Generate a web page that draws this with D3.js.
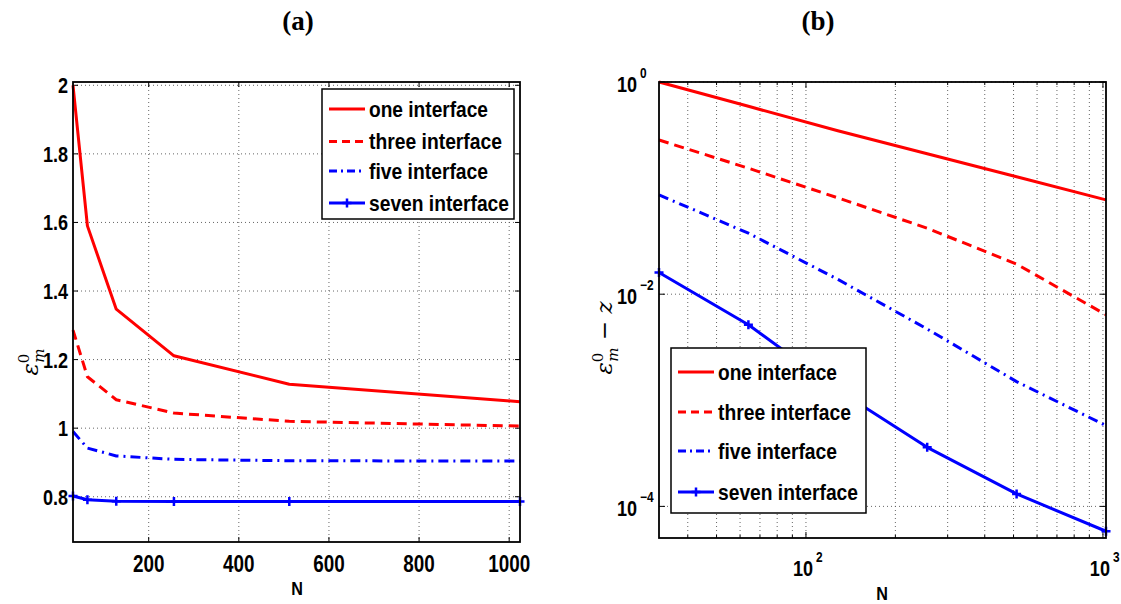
<!DOCTYPE html>
<html>
<head>
<meta charset="utf-8">
<script src="https://cdn.jsdelivr.net/npm/d3@7"></script>
<style>
  body { margin: 0; background: #fff; }
  svg { display: block; }
  text { font-family: "Liberation Sans", Arial, sans-serif; font-weight: bold; fill: #000; }
</style>
</head>
<body>
<div id="chart"></div>
<script>
// data
var N = [32, 64, 128, 256, 512, 1024];
var seriesNames = ["one interface", "three interface", "five interface", "seven interface"];

// (a) eps_m^0 against N
var oneA = [2.0, 1.59, 1.347, 1.211, 1.128, 1.077];
var threeA = [1.286, 1.150, 1.083, 1.044, 1.020, 1.006];
var fiveA = [0.990, 0.942, 0.919, 0.909, 0.905, 0.904];
var sevenA = [0.802, 0.791, 0.787, 0.786, 0.786, 0.786];

// (b) eps_m^0 - z against N, log-log
var oneB = [1.0, 0.59, 0.347, 0.211, 0.128, 0.0774];
var threeB = [0.284, 0.154, 0.081, 0.0419, 0.0192, 0.0064];
var fiveB = [0.0863, 0.0376, 0.0138, 0.0047, 0.0015, 0.000577];
var sevenB = [0.016, 0.00515, 0.00125, 0.00036, 0.000131, 0.0000583];

var xTicksA = [200, 400, 600, 800, 1000];
var yTicksA = [0.8, 1, 1.2, 1.4, 1.6, 1.8, 2];
var xTicksB = [100, 1000];
var xMinorB = [40, 50, 60, 70, 80, 90, 200, 300, 400, 500, 600, 700, 800, 900];
var yTicksB = [1e-4, 1e-2, 1];

var styles = [
  {color: "#ff0000", dash: null, marker: false},
  {color: "#ff0000", dash: "10,6", marker: false},
  {color: "#0000ff", dash: "10,5,2,5", marker: false},
  {color: "#0000ff", dash: null, marker: true}
];

var width = 1121, height = 604;
var svg = d3.select("#chart").append("svg")
    .attr("width", width).attr("height", height);

// squeeze text horizontally, the original font is narrow
function squeeze(t, k) {
  t.each(function () {
    var len = this.getComputedTextLength();
    d3.select(this).attr("textLength", len * k).attr("lengthAdjust", "spacingAndGlyphs");
  });
  return t;
}

function gridLine(g, x1, y1, x2, y2) {
  g.append("line")
    .attr("x1", x1).attr("y1", y1).attr("x2", x2).attr("y2", y2)
    .attr("stroke", "#555").attr("stroke-width", 0.9)
    .attr("stroke-dasharray", "1,3");
}

function tick(g, x1, y1, x2, y2) {
  g.append("line")
    .attr("x1", x1).attr("y1", y1).attr("x2", x2).attr("y2", y2)
    .attr("stroke", "#000").attr("stroke-width", 1);
}

function plus(g, px, py, color) {
  g.append("path")
    .attr("d", "M" + (px - 4.5) + "," + py + "H" + (px + 4.5) + "M" + px + "," + (py - 4.5) + "V" + (py + 4.5))
    .attr("stroke", color).attr("stroke-width", 2.5);
}

function drawSeries(g, x, y, data) {
  data.forEach(function (vals, i) {
    var st = styles[i];
    var line = d3.line()
      .x(function (d, j) { return x(N[j]); })
      .y(function (d) { return y(d); });
    g.append("path")
      .attr("d", line(vals))
      .attr("fill", "none")
      .attr("stroke", st.color)
      .attr("stroke-width", 3)
      .attr("stroke-linejoin", "round")
      .attr("stroke-dasharray", st.dash);
    if (st.marker) {
      vals.forEach(function (v, j) { plus(g, x(N[j]), y(v), st.color); });
    }
  });
}

function drawLegend(g, bx, by, bw, bh, rows) {
  g.append("rect")
    .attr("x", bx).attr("y", by).attr("width", bw).attr("height", bh)
    .attr("fill", "#fff").attr("stroke", "#000").attr("stroke-width", 1.5);
  var widths = [119, 133, 119, 140];
  seriesNames.forEach(function (name, i) {
    var st = styles[i], ry = rows[i];
    g.append("line")
      .attr("x1", bx + 7).attr("x2", bx + 43).attr("y1", ry).attr("y2", ry)
      .attr("stroke", st.color).attr("stroke-width", 3)
      .attr("stroke-dasharray", st.dash ? (i === 1 ? "8,5" : "8,4,2,4") : null);
    if (st.marker) plus(g, bx + 25, ry, st.color);
    g.append("text")
      .attr("x", bx + 47).attr("y", ry).attr("dy", "0.36em")
      .style("font-size", "22px")
      .attr("textLength", widths[i]).attr("lengthAdjust", "spacingAndGlyphs")
      .text(name);
  });
}

// "10" with a raised exponent, as two separate texts
function powLabel(g, x10, y10, exp) {
  squeeze(g.append("text").attr("x", x10).attr("y", y10)
    .attr("text-anchor", "end").style("font-size", "22px").text("10"), 0.82);
  squeeze(g.append("text").attr("x", x10 + 3).attr("y", y10 - 14)
    .attr("text-anchor", "start").style("font-size", "14px")
    .text(exp < 0 ? "\u2212" + (-exp) : String(exp)), 0.85);
}

// ---------- panel (a) ----------
var xa = d3.scaleLinear().domain([32, 1024]).range([73, 520]);
var ya = d3.scaleLinear().domain([0.668, 2.0096]).range([542, 82]);
var ga = svg.append("g");

xTicksA.forEach(function (t) { gridLine(ga, xa(t), 82, xa(t), 542); });
yTicksA.forEach(function (t) { gridLine(ga, 73, ya(t), 520, ya(t)); });
xTicksA.forEach(function (t) {
  tick(ga, xa(t), 542, xa(t), 537); tick(ga, xa(t), 82, xa(t), 87);
});
yTicksA.forEach(function (t) {
  tick(ga, 73, ya(t), 78, ya(t)); tick(ga, 520, ya(t), 515, ya(t));
});

drawSeries(ga, xa, ya, [oneA, threeA, fiveA, sevenA]);

ga.append("rect").attr("x", 73).attr("y", 82).attr("width", 447).attr("height", 460)
  .attr("fill", "none").attr("stroke", "#000").attr("stroke-width", 1.8);

xTicksA.forEach(function (t) {
  squeeze(ga.append("text").attr("x", xa(t)).attr("y", 572)
    .attr("text-anchor", "middle").style("font-size", "23px").text(t), 0.82);
});
yTicksA.forEach(function (t) {
  squeeze(ga.append("text").attr("x", 68).attr("y", ya(t) + 8)
    .attr("text-anchor", "end").style("font-size", "22px").text(d3.format("~g")(t)), 0.82);
});
squeeze(ga.append("text").attr("x", 297).attr("y", 595).attr("text-anchor", "middle")
  .style("font-size", "19px").text("N"), 0.85);

drawLegend(ga, 322, 89, 192, 130, [109, 141.5, 171, 203]);

// y label (a)
var yla = ga.append("text")
  .attr("transform", "translate(38,362) rotate(-90)")
  .attr("text-anchor", "middle")
  .style("font-family", "'DejaVu Serif', serif").style("font-weight", "normal")
  .style("font-style", "italic").style("font-size", "23px");
yla.append("tspan").text("ε");
yla.append("tspan").attr("dy", -9).style("font-size", "15px").style("font-style", "normal").text("0");
yla.append("tspan").attr("dx", -9).attr("dy", 15).style("font-size", "15px").text("m");

// ---------- panel (b) ----------
var xb = d3.scaleLog().domain([32, 1024]).range([659, 1106]);
var yb = d3.scaleLog().domain([Math.pow(10, -4.298), 1]).range([538, 82]);
var gb = svg.append("g");

xTicksB.concat(xMinorB).forEach(function (t) { gridLine(gb, xb(t), 82, xb(t), 538); });
yTicksB.forEach(function (t) { gridLine(gb, 659, yb(t), 1106, yb(t)); });
xTicksB.forEach(function (t) {
  tick(gb, xb(t), 538, xb(t), 532); tick(gb, xb(t), 82, xb(t), 88);
});
xMinorB.forEach(function (t) {
  tick(gb, xb(t), 538, xb(t), 535); tick(gb, xb(t), 82, xb(t), 85);
});
yTicksB.forEach(function (t) {
  tick(gb, 659, yb(t), 665, yb(t)); tick(gb, 1106, yb(t), 1100, yb(t));
});

drawSeries(gb, xb, yb, [oneB, threeB, fiveB, sevenB]);

gb.append("rect").attr("x", 659).attr("y", 82).attr("width", 447).attr("height", 456)
  .attr("fill", "none").attr("stroke", "#000").attr("stroke-width", 1.8);

yTicksB.forEach(function (t) {
  powLabel(gb, 637, yb(t) + 10, Math.round(Math.log10(t)));
});
xTicksB.forEach(function (t) {
  powLabel(gb, xb(t) + 7, 576, Math.round(Math.log10(t)));
});
squeeze(gb.append("text").attr("x", 882).attr("y", 600).attr("text-anchor", "middle")
  .style("font-size", "19px").text("N"), 0.85);

drawLegend(gb, 671, 348, 195, 165, [372, 412, 451, 492]);

var ylb = gb.append("text")
  .attr("transform", "translate(612,338) rotate(-90)")
  .attr("text-anchor", "middle")
  .style("font-family", "'DejaVu Serif', serif").style("font-weight", "normal")
  .style("font-style", "italic").style("font-size", "23px");
ylb.append("tspan").text("ε");
ylb.append("tspan").attr("dy", -9).style("font-size", "15px").style("font-style", "normal").text("0");
ylb.append("tspan").attr("dx", -9).attr("dy", 15).style("font-size", "15px").text("m");
ylb.append("tspan").attr("dy", -6).style("font-style", "normal").text(" \u2212 ");
ylb.append("tspan").text("z");

// titles
svg.append("text").attr("x", 298).attr("y", 30).attr("text-anchor", "middle")
  .style("font-family", "'Liberation Serif', serif").style("font-size", "27px").text("(a)");
svg.append("text").attr("x", 818).attr("y", 30).attr("text-anchor", "middle")
  .style("font-family", "'Liberation Serif', serif").style("font-size", "27px").text("(b)");
</script>
</body>
</html>
